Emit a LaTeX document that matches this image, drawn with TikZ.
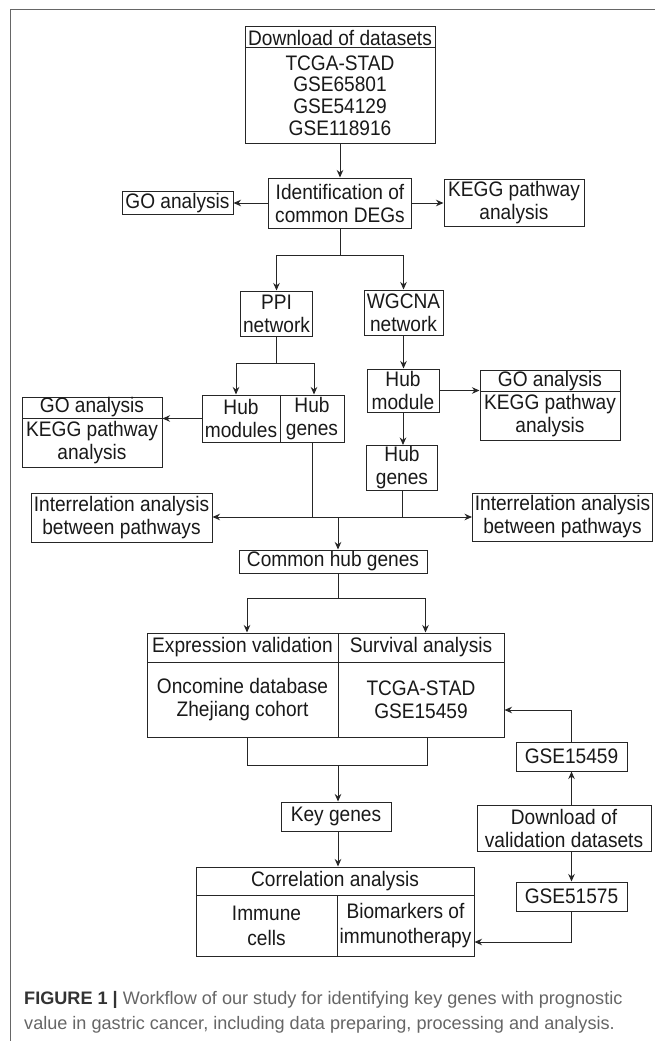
\documentclass[tikz,border=0pt]{standalone}
\usepackage{fontspec}
\setmainfont{Liberation Sans}
\newfontfamily\boxfont[FakeStretch=0.91]{Liberation Sans}
\usetikzlibrary{arrows.meta,calc}
\begin{document}
\begin{tikzpicture}[x=1pt,y=-1pt,
  box/.style={draw=black!85, line width=1pt, inner sep=0pt, align=center,
    font=\boxfont\fontsize{21}{23}\selectfont, text=black!90},
  arr/.style={draw=black!85, line width=1pt, -{Stealth[length=7.5pt,width=6.5pt]}},
  ln/.style={draw=black!85, line width=1pt},
  captext/.style={anchor=base west, inner sep=0pt, font=\fontsize{18.1}{20}\selectfont, text=black!60},
]
\useasboundingbox[fill=white] (0,0) rectangle (655,1041);
\draw[black!60, line width=1pt] (10,1041) -- (10,10) -- (655,10);

% nodes
\node[box, minimum width=190pt, minimum height=21pt] (dlh) at (340,37.5) {Download of datasets};
\node[box, minimum width=190pt, minimum height=95pt, font=\boxfont\fontsize{21}{21.7}\selectfont] (dlb) at (340,95.5) {TCGA-STAD\\GSE65801\\GSE54129\\GSE118916};
\node[box, minimum width=143pt, minimum height=50pt] (ident) at (340,203) {Identification of\\common DEGs};
\node[box, minimum width=111pt, minimum height=23pt] (go1) at (177.5,203) {GO analysis};
\node[box, minimum width=140pt, minimum height=47pt] (kegg1) at (514,203) {KEGG pathway\\analysis};
\node[box, minimum width=72pt, minimum height=45pt] (ppi) at (276.5,313.5) {PPI\\network};
\node[box, minimum width=79pt, minimum height=45pt] (wgcna) at (403.5,312.5) {WGCNA\\network};
\node[box, minimum width=78pt, minimum height=47pt] (hubmod) at (241,418.5) {Hub\\modules};
\node[box, minimum width=64pt, minimum height=47pt] (hubgen) at (312,418.5) {Hub\\genes};
\node[box, minimum width=140pt, minimum height=21pt] (go2h) at (92,407.5) {GO analysis};
\node[box, minimum width=140pt, minimum height=49pt] (go2b) at (92,442.5) {KEGG pathway\\analysis};
\node[box, minimum width=72pt, minimum height=43pt] (hubm2) at (403,390.5) {Hub\\module};
\node[box, minimum width=140pt, minimum height=21pt] (go3h) at (550,381) {GO analysis};
\node[box, minimum width=140pt, minimum height=49pt] (go3b) at (550,416) {KEGG pathway\\analysis};
\node[box, minimum width=71pt, minimum height=45pt] (hubg2) at (402,468) {Hub\\genes};
\node[box, minimum width=181pt, minimum height=49pt] (inter1) at (121.5,517.5) {Interrelation analysis\\between pathways};
\node[box, minimum width=180pt, minimum height=48pt] (inter2) at (562.5,517) {Interrelation analysis\\between pathways};
\node[box, minimum width=188pt, minimum height=23pt] (common) at (333,561.5) {Common hub genes};
\node[box, minimum width=191pt, minimum height=29pt] (exprh) at (242.5,647.5) {Expression validation};
\node[box, minimum width=166pt, minimum height=29pt] (survh) at (421,647.5) {Survival analysis};
\node[box, minimum width=191pt, minimum height=75pt] (exprb) at (242.5,699.5) {Oncomine database\\Zhejiang cohort};
\node[box, minimum width=166pt, minimum height=75pt] (survb) at (421,699.5) {TCGA-STAD\\GSE15459};
\node[box, minimum width=110pt, minimum height=29pt] (key) at (336,816.5) {Key genes};
\node[box, minimum width=278pt, minimum height=28pt] (corrh) at (335,881) {Correlation analysis};
\node[box, minimum width=141pt, minimum height=61pt, font=\boxfont\fontsize{21}{25}\selectfont] (immune) at (266.5,925.5) {Immune\\cells};
\node[box, minimum width=137pt, minimum height=61pt, font=\boxfont\fontsize{21}{25}\selectfont] (bio) at (405.5,925.5) {Biomarkers of\\immunotherapy};
\node[box, minimum width=111pt, minimum height=29pt] (gse1) at (571.5,756.5) {GSE15459};
\node[box, minimum width=174pt, minimum height=46pt] (dlv) at (564,828) {Download of\\validation datasets};
\node[box, minimum width=111pt, minimum height=29pt] (gse2) at (571.5,896.5) {GSE51575};

% connectors
\draw[arr] (dlb.south) -- (ident.north);
\draw[arr] (ident.west) -- (go1.east);
\draw[arr] (ident.east) -- (kegg1.west);
\coordinate (b1) at (340,255);
\draw[ln] (ident.south) -- (b1);
\draw[arr] (b1) -| (ppi.north);
\draw[arr] (b1) -| (wgcna.north);
\coordinate (b2) at (276.5,363);
\draw[ln] (ppi.south) -- (b2);
\draw[arr] (b2) -| ([xshift=-5pt]hubmod.north);
\draw[arr] (b2) -| ([xshift=2pt]hubgen.north);
\draw[arr] (hubmod.west) -- (hubmod.west -| go2b.east);
\draw[arr] (wgcna.south) -- (wgcna.south |- hubm2.north);
\draw[arr] (hubm2.south) -- (hubm2.south |- hubg2.north);
\draw[arr] (hubm2.east) -- (hubm2.east -| go3b.west);
\coordinate (bus) at (338,517);
\draw[ln] (hubgen.south) -- (hubgen.south |- bus);
\draw[ln] (hubg2.south) -- (hubg2.south |- bus);
\draw[arr] (hubg2.south |- bus) -- (bus -| inter1.east);
\draw[arr] (hubgen.south |- bus) -- (bus -| inter2.west);
\draw[arr] (bus) -- (bus |- common.north);
\coordinate (b3) at (338,598);
\draw[ln] (b3 |- common.south) -- (b3);
\draw[arr] (b3) -| ([xshift=4.5pt]exprh.north);
\draw[arr] (b3) -| ([xshift=4.5pt]survh.north);
\coordinate (b4) at (338,765);
\draw[ln] ([xshift=4.5pt]exprb.south) |- (b4);
\draw[ln] ([xshift=6.5pt]survb.south) |- (b4);
\draw[arr] (b4) -- (b4 |- key.north);
\draw[arr] (b4 |- key.south) -- (b4 |- corrh.north);
\draw[arr] (gse1.north) |- ([yshift=-10.5pt]survb.east);
\draw[arr] (gse1.south |- dlv.north) -- (gse1.south);
\draw[arr] (gse2.north |- dlv.south) -- (gse2.north);
\draw[arr] (gse2.south) |- ([yshift=-16.5pt]bio.east);

% caption
\node[captext] (cap1) at (24,1004) {\textcolor{black!80}{\textbf{FIGURE 1 |}} Workflow of our study for identifying key genes with prognostic};
\node[captext] (cap2) at (24,1029) {value in gastric cancer, including data preparing, processing and analysis.};
\end{tikzpicture}
\end{document}
